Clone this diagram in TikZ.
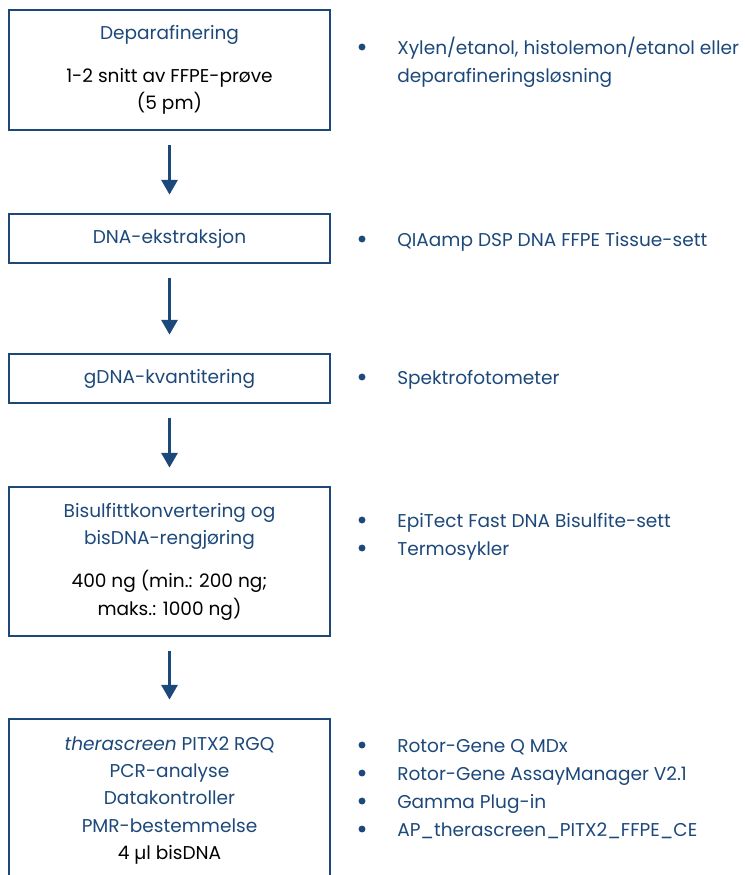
\documentclass[tikz,border=0pt]{standalone}
\usepackage{fontspec}
\setmainfont{Poppins}
\usetikzlibrary{positioning,arrows.meta}
\definecolor{qblue}{RGB}{28,72,122}

\begin{document}
\begin{tikzpicture}[x=0.75pt, y=-0.75pt,
    every node/.style={font=\fontsize{13.9}{20.6}\selectfont},
    stepbox/.style={draw=qblue, line width=1.1pt, minimum width=240.75pt, inner sep=0pt, align=center, text=qblue},
    flowarrow/.style={draw=qblue, line width=2pt, -{Triangle[width=12pt,length=11pt]}, shorten <=11pt, shorten >=14pt},
    dot/.style={circle, fill=qblue, inner sep=0pt, minimum size=5.2pt},
    itemtext/.style={anchor=base west, text=qblue, inner sep=0pt, align=left}]
    \clip (0,0) rectangle (744,875);

    % the steps
    \node[stepbox, minimum height=90pt] (depar) at (169.5,70) {Deparafinering\\[11.6pt]\textcolor{black}{1-2 snitt av FFPE-prøve}\\\textcolor{black}{(5 pm)}};
    \node[stepbox, minimum height=36.75pt] (extr) at (169.5,238.5) {DNA-ekstraksjon};
    \node[stepbox, minimum height=36.75pt] (kvant) at (169.5,378.5) {gDNA-kvantitering};
    \node[stepbox, minimum height=111.75pt] (bisulf) at (169.5,561.5) {Bisulfittkonvertering og\\bisDNA-rengjøring\\[11.6pt]\textcolor{black}{400 ng (min.: 200 ng;}\\\textcolor{black}{maks.: 1000 ng)}};
    \node[stepbox, minimum height=122.25pt] (pcr) at (169.5,800.5) {\textit{therascreen} PITX2 RGQ\\PCR-analyse\\Datakontroller\\PMR-bestemmelse\\\textcolor{black}{4 µl bisDNA}};

    \draw[flowarrow] (depar) -- (extr);
    \draw[flowarrow] (extr) -- (kvant);
    \draw[flowarrow] (kvant) -- (bisulf);
    \draw[flowarrow] (bisulf) -- (pcr);

    % what is needed for each step (bullet y / last baseline / name / text)
    \foreach \by/\y/\nm/\txt in {47/82/xyl/{Xylen/etanol, histolemon/etanol eller\\deparafineringsløsning},
        239/246/qia/{QIAamp DSP DNA FFPE Tissue-sett},
        377/384/spek/{Spektrofotometer},
        520/527/epi/{EpiTect Fast DNA Bisulfite-sett},
        548/555/termo/{Termosykler},
        745/752/rgq/{Rotor-Gene Q MDx},
        773/780/am/{Rotor-Gene AssayManager V2.1},
        801/808/gam/{Gamma Plug-in},
        829/836/ap/{AP\_therascreen\_PITX2\_FFPE\_CE}} {
        \node[dot] (b-\nm) at (362,\by) {};
        \node[itemtext] (t-\nm) at (397,\y) {\txt};
    }
\end{tikzpicture}
\end{document}
